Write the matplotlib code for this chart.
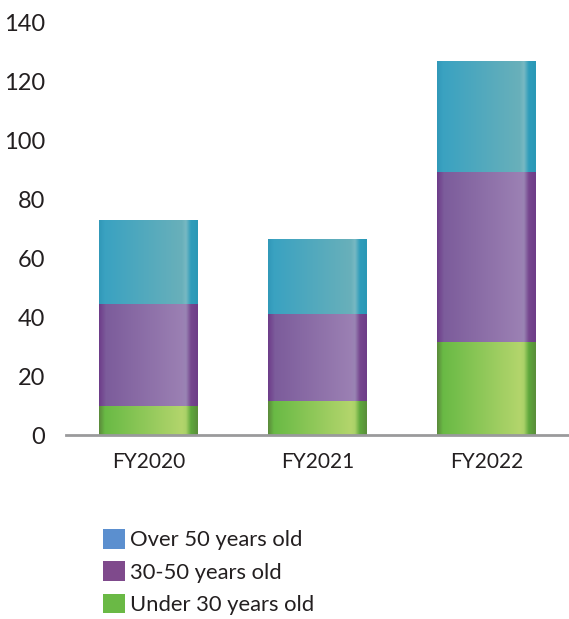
import matplotlib.pyplot as plt
import numpy as np
from matplotlib.colors import LinearSegmentedColormap
from matplotlib.patches import Patch

plt.rcParams['font.family'] = ['Lato', 'DejaVu Sans']

# 年份与各年龄段人数
years = ['FY2020', 'FY2021', 'FY2022']
under_30 = [10, 11.5, 31.5]
age_30_50 = [34.5, 29.5, 58]
over_50 = [28.5, 25.5, 37.5]

labels = ['Over 50 years old', '30-50 years old', 'Under 30 years old']
legend_colors = ['#5B8FCF', '#7F4A8C', '#6AB945']

# 圆柱状的横向渐变
grad = {
    'green': [(0, '#5B8A3B'), (0.06, '#69BA45'), (0.84, '#B3D56C'),
              (0.88, '#AAD168'), (0.93, '#5FA83D'), (1, '#5A8E3A')],
    'purple': [(0, '#6D3C89'), (0.07, '#7C5C9B'), (0.84, '#9B80B3'),
               (0.88, '#9984B4'), (0.93, '#76478F'), (1, '#6E3D88')],
    'teal': [(0, '#3198B8'), (0.06, '#3AA2C1'), (0.84, '#69B0BA'),
             (0.88, '#78B9C3'), (0.93, '#2F9DBB'), (1, '#2A98B6')],
}

fig = plt.figure(figsize=(5.69, 6.19), dpi=100)
ax = fig.add_axes([0.116, 0.297, 0.884, 0.666])

x = np.arange(len(years))
bw = 0.585
bottom = np.zeros(len(years))
for vals, key in [(under_30, 'green'), (age_30_50, 'purple'), (over_50, 'teal')]:
    bars = ax.bar(x, vals, bw, bottom=bottom, color='none', edgecolor='none')
    cmap = LinearSegmentedColormap.from_list(key, grad[key])
    img = np.linspace(0, 1, 256).reshape(1, -1)
    for b in bars:
        x0, y0 = b.get_x(), b.get_y()
        im = ax.imshow(img, cmap=cmap, aspect='auto', interpolation='bilinear',
                       extent=(x0, x0 + b.get_width(), y0, y0 + b.get_height()),
                       zorder=2)
        im.set_clip_path(b)
    bottom += np.array(vals)

ax.set_xlim(-0.49, 2.49)
ax.set_ylim(0, 140)
ax.set_yticks(range(0, 141, 20))
ax.set_xticks(x)
ax.set_xticklabels(years)

for s in ['top', 'right', 'left']:
    ax.spines[s].set_visible(False)
ax.spines['bottom'].set_color('#9A9A9C')
ax.spines['bottom'].set_linewidth(2)
ax.spines['bottom'].set_zorder(3)

ax.tick_params(axis='y', length=0, pad=15, labelsize=17, labelcolor='#231F20')
ax.tick_params(axis='x', length=0, pad=12, labelsize=15, labelcolor='#231F20')

handles = [Patch(facecolor=c, edgecolor='none') for c in legend_colors]
fig.legend(handles, labels, loc='upper left', bbox_to_anchor=(0.181, 0.1454),
           frameon=False, fontsize=15.8, handlelength=1.0, handleheight=1.0,
           handletextpad=0.25, labelspacing=0.5, borderpad=0, borderaxespad=0,
           labelcolor='#231F20')

fig.savefig('out.png', dpi=100)
